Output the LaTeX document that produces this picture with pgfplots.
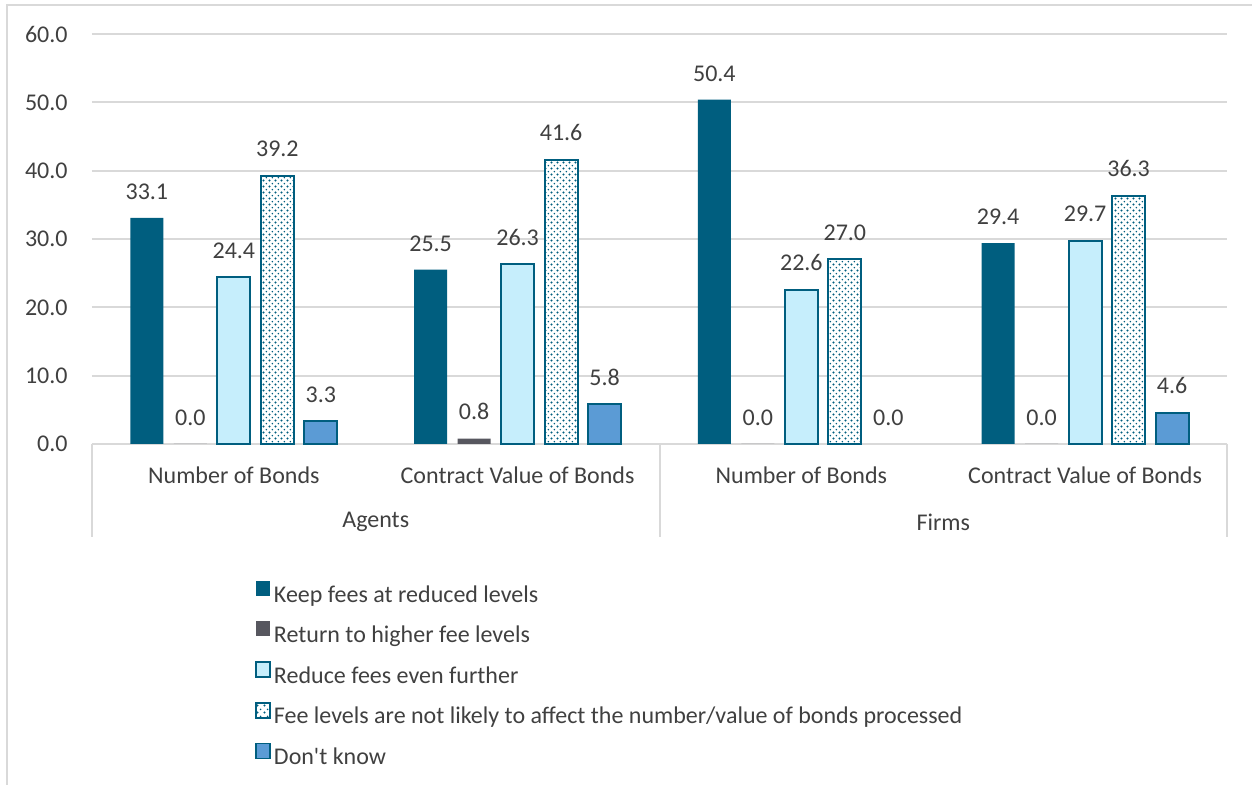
\documentclass[border=0pt]{standalone}
\usepackage{pgfplots}
\pgfplotsset{compat=1.18}
\usepackage{fontspec}
\setmainfont{Carlito}[Ligatures=TeXOff]
\usetikzlibrary{patterns,patterns.meta}
\pgfdeclarepattern{
  name=mydots, type=uncolored,
  bottom left={\pgfpoint{0pt}{0pt}}, top right={\pgfpoint{3.2pt}{3.2pt}},
  tile size={\pgfpoint{3.2pt}{3.2pt}},
  code={
    \pgfpathcircle{\pgfpoint{0.8pt}{0.8pt}}{0.6pt}
    \pgfpathcircle{\pgfpoint{2.4pt}{2.4pt}}{0.45pt}
    \pgfusepath{fill}
  }
}
\definecolor{teal1}{HTML}{005E7F}
\definecolor{grey1}{HTML}{57575F}
\definecolor{lblue}{HTML}{C6EEFC}
\definecolor{mblue}{HTML}{5B9BD5}
\definecolor{gridc}{HTML}{D9D9D9}
\definecolor{txt}{HTML}{404040}
\begin{document}
\begin{tikzpicture}[font=\fontsize{12}{14}\selectfont]
\useasboundingbox (0,0) rectangle (626pt,392.5pt);
\draw[gridc, line width=1pt] (3.5pt,0) -- (3.5pt,390pt) -- (626pt,390pt);
\begin{axis}[
  name=ax, at={(46pt,170.5pt)}, anchor=south west,
  scale only axis, width=567.5pt, height=205pt,
  xmin=-0.5, xmax=3.5, ymin=0, ymax=60,
  xtick={0,1,2,3},
  xticklabels={Number of Bonds, Contract Value of Bonds, Number of Bonds, Contract Value of Bonds},
  ytick={0,10,20,30,40,50,60},
  major tick length=0pt,
  ymajorgrids, grid style={gridc, line width=1pt},
  axis line style={draw=none},
  /pgf/number format/assume math mode=true,
  yticklabel={\pgfmathprintnumber[fixed,fixed zerofill,precision=1]{\tick}},
  yticklabel style={anchor=east, inner sep=0pt, xshift=-12pt, text=txt},
  xticklabel style={anchor=center, yshift=-15.5pt, text=txt},
  ybar, bar width=16.5pt,
  clip=false,
  nodes near coords={\pgfmathprintnumber[fixed,fixed zerofill,precision=1]{\pgfplotspointmeta}},
  every node near coord/.append style={anchor=south, inner sep=0pt, yshift=9pt, text=txt},
  legend cell align=left,
  legend image code/.code={\path[#1, line width=0.8pt] (0pt,0pt) rectangle (7pt,7.5pt);},
  legend style={draw=none, fill=none, at={(0.1436,-0.3337)}, anchor=north west,
    inner sep=0pt, row sep=5pt, column sep=0pt,
    nodes={inner sep=1.5pt, text height=9pt, text depth=3pt, text=txt}},
]
\addplot[fill=teal1, draw=none, bar shift=-43.5pt] coordinates {(0,33.1) (1,25.5) (2,50.4) (3,29.4)};
\addlegendentry{Keep fees at reduced levels}
\addplot[fill=grey1, draw=none, bar shift=-21.75pt] coordinates {(0,0) (1,0.8) (2,0) (3,0)};
\addlegendentry{Return to higher fee levels}
\addplot[fill=lblue, draw=teal1, line width=1pt, bar shift=0pt] coordinates {(0,24.4) (1,26.3) (2,22.6) (3,29.7)};
\addlegendentry{Reduce fees even further}
\addplot[fill=white, draw=teal1, line width=1pt, postaction={pattern=mydots, pattern color=teal1}, bar shift=21.75pt] coordinates {(0,39.2) (1,41.6) (2,27.0) (3,36.3)};
\addlegendentry{Fee levels are not likely to affect the number/value of bonds processed}
\addplot[fill=mblue, draw=teal1, line width=1pt, bar shift=43.5pt] coordinates {(0,3.3) (1,5.8) (3,4.6)};
\addlegendentry{Don't know}
\addplot[draw=none, fill=none, bar shift=43.5pt, forget plot] coordinates {(2,0)};
\draw[gridc, line width=1pt] (axis cs:-0.5,0) -- ([yshift=-46.5pt]axis cs:-0.5,0);
\draw[gridc, line width=1pt] (axis cs:1.5,0) -- ([yshift=-46.5pt]axis cs:1.5,0);
\draw[gridc, line width=1pt] (axis cs:3.5,0) -- ([yshift=-46.5pt]axis cs:3.5,0);
\node[text=txt] at (axis cs:0.5,0) [yshift=-39pt] {Agents};
\node[text=txt] at (axis cs:2.5,0) [yshift=-39pt] {Firms};
\end{axis}
\end{tikzpicture}
\end{document}
